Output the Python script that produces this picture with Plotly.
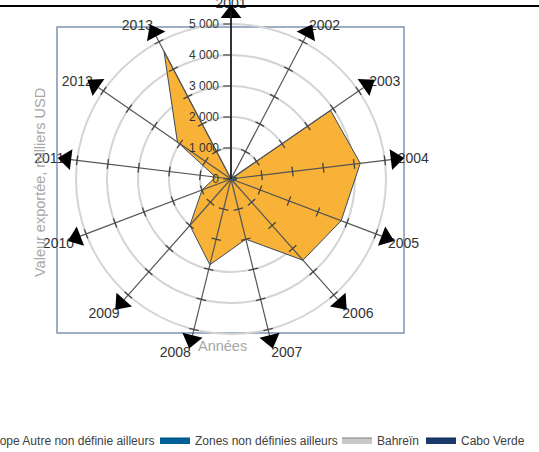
import plotly.graph_objects as go

# Years around the dial, clockwise from the top
years = ["2001", "2002", "2003", "2004", "2005", "2006", "2007",
         "2008", "2009", "2010", "2011", "2012", "2013"]

# Exported value, thousands USD
europe_autre = [0, 20, 3900, 4200, 3800, 3500, 2000, 2850, 2000, 1000, 500, 2100, 4650]
zones_nda = [20, 60, 150, 200, 150, 60, 30, 20, 20, 20, 20, 20, 20]
bahrein = [0, 10, 20, 20, 10, 0, 0, 0, 0, 0, 0, 0, 0]
cabo_verde = [0, 0, 10, 10, 10, 0, 0, 0, 0, 0, 0, 0, 0]

series_names = ["Europe Autre non définie ailleurs", "Zones non définies ailleurs",
                "Bahreïn", "Cabo Verde"]
series_fill = ["#F8B237", "#00609A", "#C8C8C8", "#1B3A6B"]
series_line = ["#3C4A5C", "#00507F", "#7F7F7F", "#132C55"]

# Radial scale
r_ticks = [0, 1000, 2000, 3000, 4000, 5000]
r_tick_text = ["0", "1 000", "2 000", "3 000", "4 000", "5 000"]
spoke_end = 5200
r_max = 5400
arrow_r = 5340

W, H = 539, 452

fig = go.Figure()

for name, vals, fc, lc, lg in zip(series_names,
                                  [europe_autre, zones_nda, bahrein, cabo_verde],
                                  series_fill, series_line,
                                  ["legend", "legend2", "legend3", "legend4"]):
    fig.add_trace(go.Scatterpolar(
        r=vals + vals[:1], theta=years + years[:1],
        mode="lines", fill="toself", fillcolor=fc,
        line=dict(color=lc, width=1), name=name, legend=lg,
        hoverinfo="skip",
    ))

# Spokes drawn over the filled area
spoke_r, spoke_t = [], []
for y in years:
    spoke_r += [0, spoke_end, None]
    spoke_t += [y, y, y]
fig.add_trace(go.Scatterpolar(
    r=spoke_r, theta=spoke_t, mode="lines",
    line=dict(color="#555555", width=1.2), showlegend=False, hoverinfo="skip",
))

# Small tick marks along each spoke
step = 360 / len(years)
tick_r, tick_t, tick_a = [], [], []
for i, y in enumerate(years):
    if i == 0:
        continue
    for v in r_ticks[1:]:
        tick_r.append(v)
        tick_t.append(y)
        tick_a.append(i * step)
fig.add_trace(go.Scatterpolar(
    r=tick_r, theta=tick_t, mode="markers",
    marker=dict(symbol="line-ew", size=7, angle=tick_a,
                line=dict(color="#444444", width=1.3)),
    showlegend=False, hoverinfo="skip",
))

# Arrow heads at the end of every spoke
fig.add_trace(go.Scatterpolar(
    r=[arrow_r] * len(years), theta=years, mode="markers",
    marker=dict(symbol="triangle-up", size=18, color="black",
                angle=[i * step for i in range(len(years))]),
    cliponaxis=False, showlegend=False, hoverinfo="skip",
))

cx, cy = 231, 179
R = r_max * 155 / 5000
fig.update_layout(
    width=W, height=H,
    margin=dict(l=0, r=0, t=0, b=0, autoexpand=False),
    paper_bgcolor="white", plot_bgcolor="white",
    font=dict(family="Liberation Sans, Arial, sans-serif", color="#333333"),
    polar=dict(
        domain=dict(x=[(cx - R) / W, (cx + R) / W],
                    y=[1 - (cy + R) / H, 1 - (cy - R) / H]),
        bgcolor="rgba(0,0,0,0)",
        radialaxis=dict(
            range=[0, r_max], tickvals=r_ticks, ticktext=r_tick_text,
            angle=90, side="counterclockwise", tickangle=90,
            showline=True, linecolor="#1A1A1A", linewidth=1.6,
            ticks="outside", ticklen=7, tickcolor="#333333", tickwidth=1.2,
            gridcolor="#D4D4D4", gridwidth=1.5,
            tickfont=dict(size=12, color="#333333"),
        ),
        angularaxis=dict(
            type="category", categoryarray=years,
            rotation=90, direction="clockwise",
            showgrid=False, showline=False, ticks="",
            tickfont=dict(size=14, color="#333333"),
            layer="below traces",
        ),
    ),
    shapes=[
        dict(type="rect", xref="paper", yref="paper",
             x0=57 / W, x1=404 / W, y0=1 - 333 / H, y1=1 - 27 / H,
             line=dict(color="#7F95B3", width=1.5), layer="below"),
        dict(type="line", xref="paper", yref="paper",
             x0=0, x1=1, y0=1 - 6 / H, y1=1 - 6 / H,
             line=dict(color="black", width=2)),
    ],
    annotations=[
        dict(text="Valeur exportée, milliers USD", xref="paper", yref="paper",
             x=30 / W, y=1 - 183 / H, showarrow=False, textangle=-90,
             font=dict(size=14.5, color="#A6A6A6")),
        dict(text="Années", xref="paper", yref="paper",
             x=222 / W, y=1 - 356 / H, showarrow=False,
             font=dict(size=14.5, color="#A6A6A6")),
    ],
)

legend_text_x = [-19, 195, 377, 461]
for k, tx in enumerate(legend_text_x):
    key = "legend" if k == 0 else f"legend{k + 1}"
    fig.update_layout({key: dict(
        x=(tx - 40) / W, xanchor="left", y=1 - 440 / H, yanchor="middle",
        orientation="h", bgcolor="rgba(0,0,0,0)",
        font=dict(size=12, color="#404040"),
    )})

fig.write_html("out.html")
